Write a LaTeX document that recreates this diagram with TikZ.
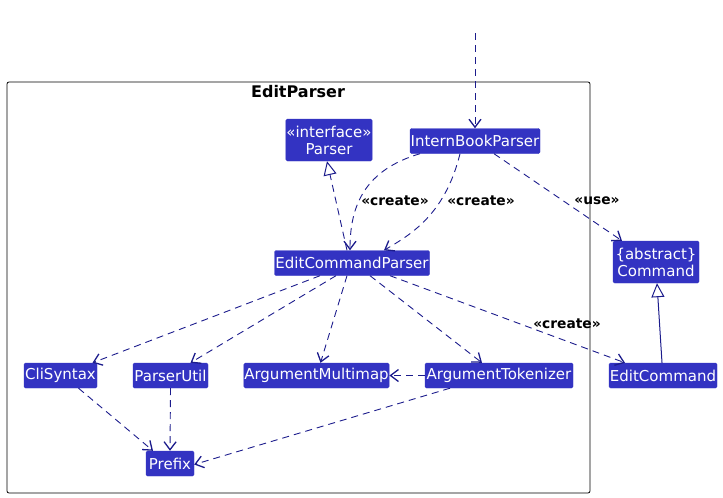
\documentclass[tikz,border=0pt]{standalone}
\usepackage{fontspec}
\setmainfont{DejaVu Sans}
\usetikzlibrary{arrows.meta}
\definecolor{boxblue}{RGB}{51,51,194}
\definecolor{linenavy}{RGB}{28,28,140}
\begin{document}
\begin{tikzpicture}[x=1pt,y=-1pt,
  cls/.style={draw=boxblue,fill=boxblue,text=white,rounded corners=1.5pt,inner xsep=0.5pt,inner ysep=1pt,minimum height=25pt,font=\fontsize{15}{17}\selectfont,align=center},
  dep/.style={draw=linenavy,dash pattern=on 7pt off 5pt,line width=0.9pt,-{Straight Barb[length=8pt,width=12pt,line width=1.3pt]}},
  realize/.style={draw=linenavy,dash pattern=on 7pt off 5pt,line width=0.9pt,-{Triangle[open,length=14pt,width=13pt,fill=white,line width=1pt]}},
  inherit/.style={draw=linenavy,line width=1pt,-{Triangle[open,length=14pt,width=13pt,fill=white,line width=1pt]}},
  lbl/.style={font=\bfseries\fontsize{13.8}{16}\selectfont,text=black,inner sep=1pt}]
\useasboundingbox (0,0) rectangle (723,498);
% package frame
\draw[black,line width=0.8pt,rounded corners=2pt] (7,82) rectangle (590,493);
\node[font=\bfseries\fontsize{16}{18}\selectfont] (title) at (298,92) {EditParser};
% nodes
\node[cls,minimum width=86pt,minimum height=42pt] (parser) at (329,140) {«interface»\\Parser};
\node[cls,minimum width=130pt] (ibp) at (475,141) {InternBookParser};
\node[cls,minimum width=155pt] (ecp) at (352,263) {EditCommandParser};
\node[cls,minimum width=86pt,minimum height=42pt] (cmd) at (656,262) {\{abstract\}\\Command};
\node[cls,minimum width=73pt] (cli) at (60.5,375.5) {CliSyntax};
\node[cls,minimum width=75pt] (pu) at (170.5,375.5) {ParserUtil};
\node[cls,minimum width=145pt] (am) at (316.5,375.5) {ArgumentMultimap};
\node[cls,minimum width=148pt] (at) at (499,375.5) {ArgumentTokenizer};
\node[cls,minimum width=108pt] (ec) at (663,375.5) {EditCommand};
\node[cls,minimum width=48pt] (prefix) at (170,463.5) {Prefix};
\coordinate (start) at (475,33);
% edges
\draw[dep] (start) -- (ibp.north);
\draw[realize] ([xshift=-5pt]ecp.north) -- ([xshift=-2pt]parser.south);
\draw[dep] ([xshift=-55pt]ibp.south) .. controls (365,170) and (350,205) .. ([xshift=-2pt]ecp.north);
\draw[dep] ([xshift=-15pt]ibp.south) .. controls (445,215) and (410,235) .. ([xshift=32pt]ecp.north);
\draw[dep] ([xshift=19pt]ibp.south) -- ([xshift=-34pt]cmd.north);
\draw[inherit] ([xshift=-1pt]ec.north) -- ([xshift=1pt]cmd.south);
\draw[dep] ([xshift=-32pt]ecp.south) -- ([xshift=32pt]cli.north);
\draw[dep] ([xshift=-16pt]ecp.south) -- ([xshift=20pt]pu.north);
\draw[dep] ([xshift=-5pt]ecp.south) -- ([xshift=4pt]am.north);
\draw[dep] ([xshift=18pt]ecp.south) -- ([xshift=-17pt]at.north);
\draw[dep] ([xshift=38pt]ecp.south) -- ([xshift=-38pt]ec.north);
\draw[dep] (at.west) -- (am.east);
\draw[dep] ([xshift=18pt]cli.south) -- ([xshift=-17pt]prefix.north);
\draw[dep] (pu.south) -- (prefix.north);
\draw[dep] ([xshift=-49pt]at.south) -- ([yshift=-1pt]prefix.east);
% labels
\node[lbl] (l1) at (395,201) {«create»};
\node[lbl] (l2) at (481,201) {«create»};
\node[lbl] (l3) at (597,201) {«use»};
\node[lbl] (l4) at (567,324) {«create»};
\end{tikzpicture}
\end{document}
